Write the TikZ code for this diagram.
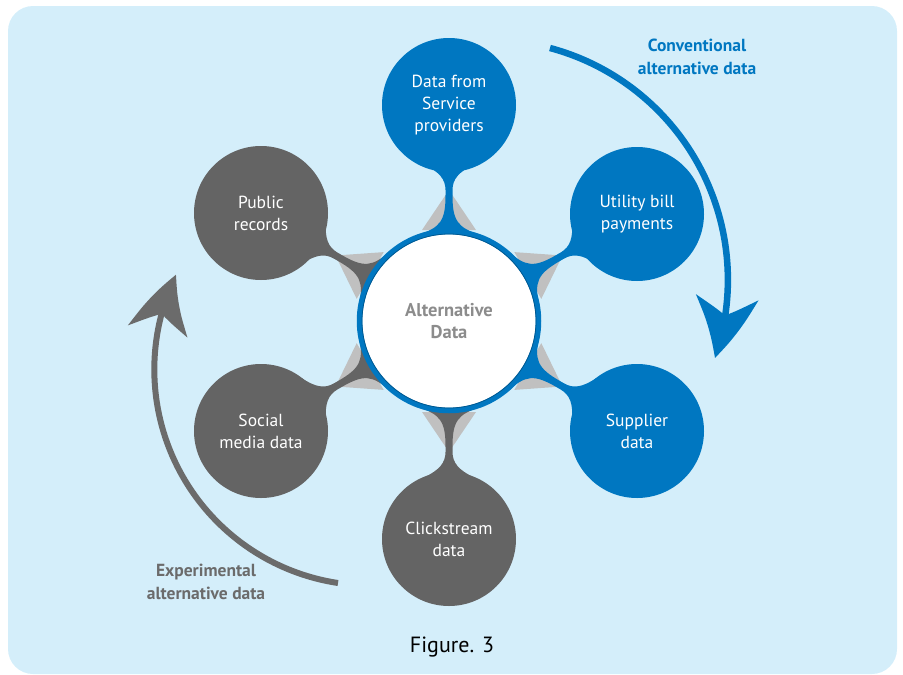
\documentclass[tikz,border=0pt]{standalone}
\usepackage{fontspec}
\setmainfont{PT Sans}
\usepackage{tikz}
\usetikzlibrary{arrows.meta,bending,positioning}
\definecolor{fondo}{HTML}{D4EEFA}
\definecolor{azul}{HTML}{0077C1}
\definecolor{gris}{HTML}{646464}
\definecolor{grisclaro}{HTML}{C0C0C0}
\definecolor{gristexto}{HTML}{8C8C8C}
\definecolor{grisflecha}{HTML}{6B6B6B}

\begin{document}
\begin{tikzpicture}[x=1pt, y=-1pt,
  satelite/.style={circle, minimum size=134pt, inner sep=0pt, align=center,
    text=white, font=\fontsize{17.5}{22}\selectfont},
  etiqueta/.style={align=center, font=\bfseries\fontsize{17.5}{23}\selectfont}]
  \useasboundingbox (0,0) rectangle (903,675);
  \fill[fondo, rounded corners=25pt] (8,6) rectangle (897,674);

  \coordinate (hub) at (449,321);

  % cuellos entre el centro y cada circulo
  \foreach \ang/\col in {90/azul, 30/azul, -30/azul, -90/gris, 210/gris, 150/gris} {
    \begin{scope}[shift={(hub)}, rotate=\ang]
      \fill[grisclaro] (91,-27) -- (131,0) -- (91,27) -- cycle;
      \fill[\col] (86,-32) .. controls (93,-8) and (101,-3.5) .. (126,-3.5)
        -- (131,-3.5) .. controls (142,-3.5) and (149,-10) .. (156,-24)
        -- (165,-24) -- (165,24) -- (156,24)
        .. controls (149,10) and (142,3.5) .. (131,3.5)
        -- (126,3.5) .. controls (101,3.5) and (93,8) .. (86,32) -- cycle;
    \end{scope}
  }

  % datos convencionales
  \node[satelite, fill=azul] (prov) at (449,105) {Data from\\Service\\providers};
  \node[satelite, fill=azul] (util) at (637,214) {Utility bill\\payments};
  \node[satelite, fill=azul] (supp) at (637,431) {Supplier\\data};

  % datos experimentales
  \node[satelite, fill=gris] (click) at (449,539) {Clickstream\\data};
  \node[satelite, fill=gris] (social) at (261,431) {Social\\media data};
  \node[satelite, fill=gris] (public) at (261,213) {Public\\records};

  % centro
  \node[circle, fill=white, draw=azul, line width=5.5pt, minimum size=179pt,
    align=center, text=gristexto, font=\bfseries\fontsize{18.5}{22}\selectfont]
    (alt) at (hub) {Alternative\\Data};
  \draw[azul!75!black, line width=0.8pt] (hub) circle[radius=87];

  % flechas
  \coordinate (convIni) at (550,48);
  \coordinate (experIni) at (338,583);
  \draw[azul, line width=6.5pt, -{Stealth[length=62pt, width=62pt, inset=18pt, bend]}]
    (convIni) arc[start angle=-75, end angle=19, radius=240];
  \draw[grisflecha, line width=6pt, -{Stealth[length=60pt, width=60pt, inset=18pt, bend]}]
    (experIni) arc[start angle=98.6, end angle=206, radius=216];

  \node[etiqueta, text=azul] (conv) at (697,57) {Conventional\\alternative data};
  \node[etiqueta, text=grisflecha] (exper) at (206,582) {Experimental\\alternative data};
  \node[font=\fontsize{22}{25}\selectfont] (fig) at (452,647) {Figure. 3};
\end{tikzpicture}
\end{document}
